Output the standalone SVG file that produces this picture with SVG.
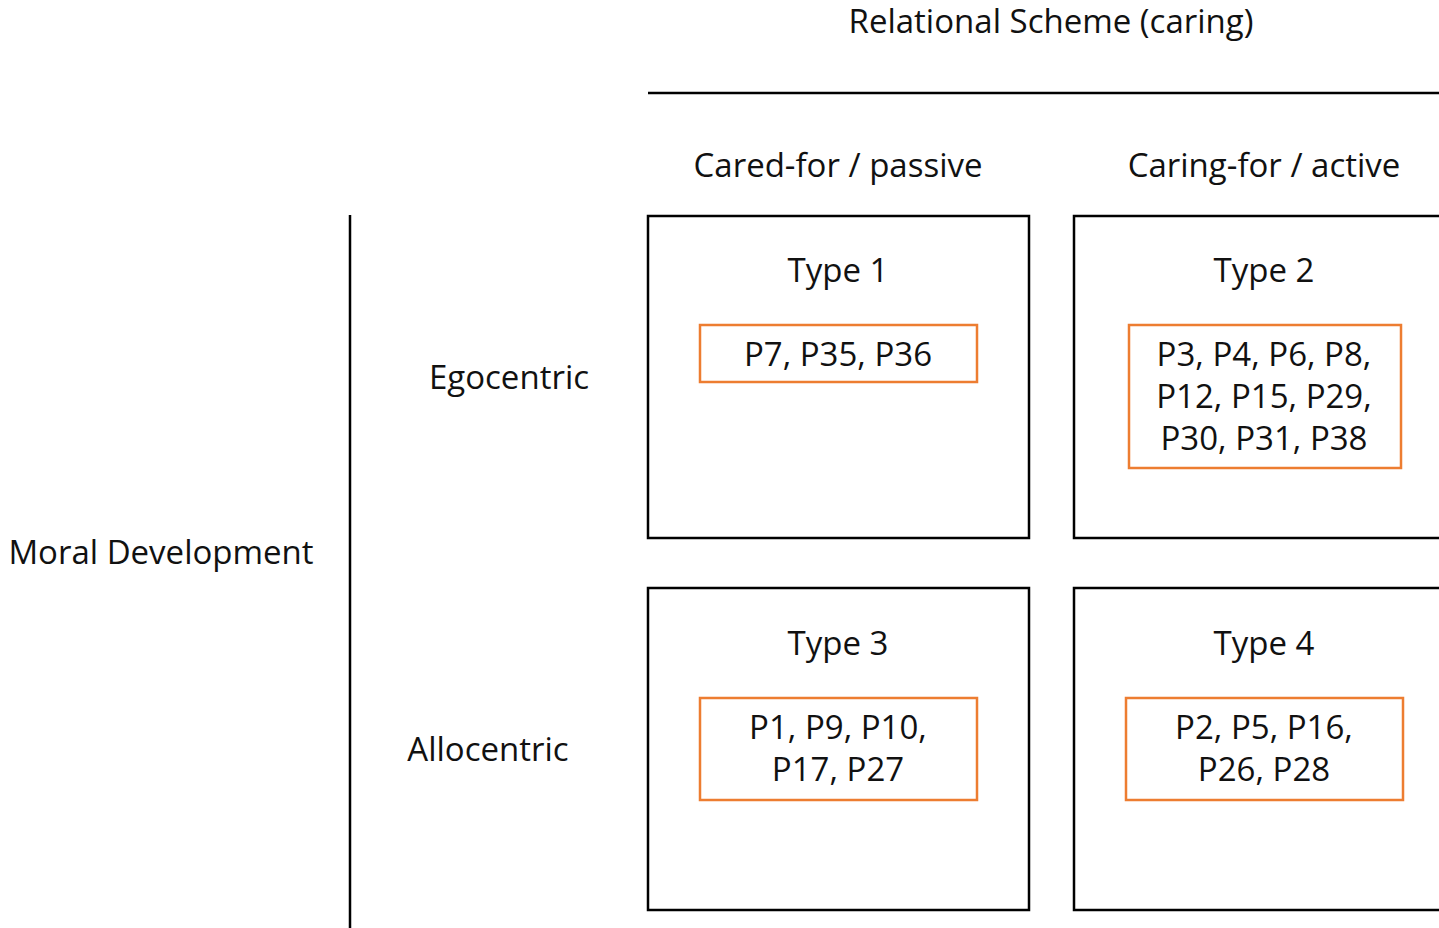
<svg xmlns="http://www.w3.org/2000/svg" width="1439" height="928" viewBox="0 0 1439 928">
<style>
text{font-family:"Open Sans","Noto Sans","Liberation Sans",sans-serif;font-size:33px;fill:#111;text-anchor:middle}
.cell{fill:#fff;stroke:#000;stroke-width:2.5}
.grp{fill:#fff;stroke:#ED7D31;stroke-width:2.5}
.ax{stroke:#000;stroke-width:2.5;fill:none}
</style>
<rect width="1439" height="928" fill="#fff"/>
<g id="connectors">
<line class="ax" x1="648" y1="93" x2="1439" y2="93"/>
<line class="ax" x1="350" y1="215" x2="350" y2="928"/>
</g>
<g id="labels">
<text x="1051" y="33">Relational Scheme (caring)</text>
<text x="838" y="177">Cared-for / passive</text>
<text x="1264" y="177">Caring-for / active</text>
<text x="161" y="564">Moral Development</text>
<text x="509" y="389">Egocentric</text>
<text x="488" y="761">Allocentric</text>
</g>
<g id="type1">
<rect class="cell" x="648" y="216" width="381" height="322"/>
<text x="838" y="282">Type 1</text>
<rect class="grp" x="700" y="325" width="277" height="57"/>
<text x="838" y="366">P7, P35, P36</text>
</g>
<g id="type2">
<rect class="cell" x="1074" y="216" width="380" height="322"/>
<text x="1264" y="282">Type 2</text>
<rect class="grp" x="1129" y="325" width="272" height="143"/>
<text x="1264" y="366">P3, P4, P6, P8,</text>
<text x="1264" y="408">P12, P15, P29,</text>
<text x="1264" y="450">P30, P31, P38</text>
</g>
<g id="type3">
<rect class="cell" x="648" y="588" width="381" height="322"/>
<text x="838" y="655">Type 3</text>
<rect class="grp" x="700" y="698" width="277" height="102"/>
<text x="838" y="739">P1, P9, P10,</text>
<text x="838" y="781">P17, P27</text>
</g>
<g id="type4">
<rect class="cell" x="1074" y="588" width="380" height="322"/>
<text x="1264" y="655">Type 4</text>
<rect class="grp" x="1126" y="698" width="277" height="102"/>
<text x="1264" y="739">P2, P5, P16,</text>
<text x="1264" y="781">P26, P28</text>
</g>
</svg>
